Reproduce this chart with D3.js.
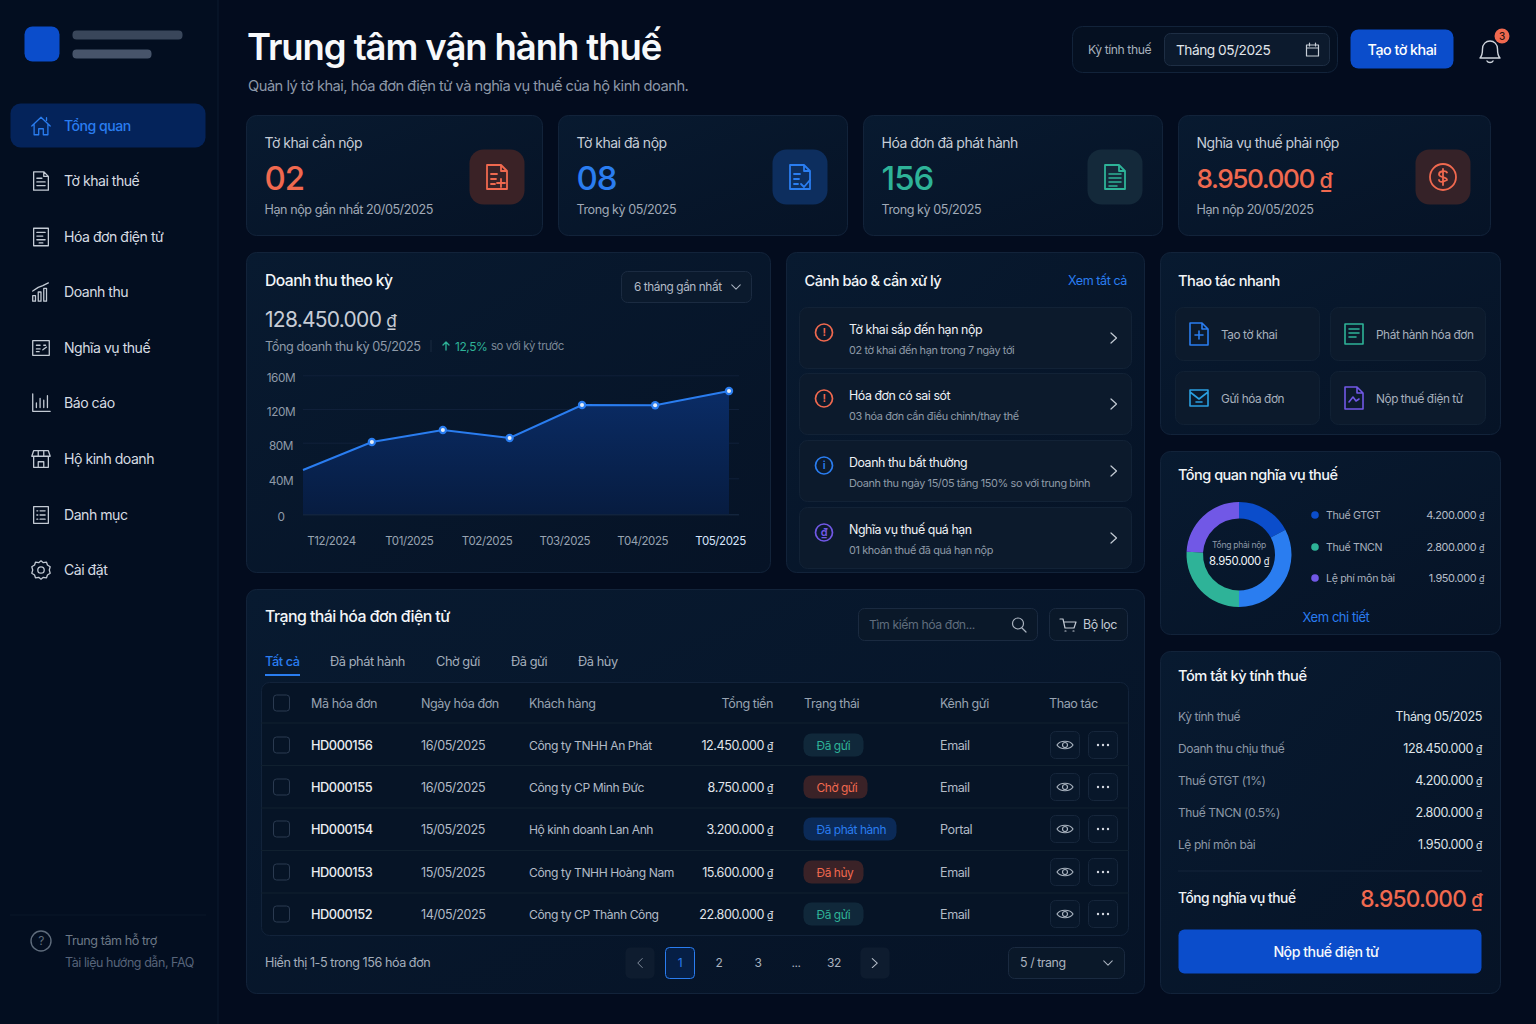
<!DOCTYPE html>
<html lang="vi"><head><meta charset="utf-8"><title>Trung tâm vận hành thuế</title>
<script src="https://cdn.jsdelivr.net/npm/d3@7/dist/d3.min.js"></script>
<style>html,body{margin:0;padding:0;background:#030c1e;overflow:hidden}svg{display:block}text{font-family:Inter,"Noto Sans",sans-serif;letter-spacing:-0.035em}</style>
</head><body><svg id="app" width="1536" height="1024" viewBox="0 0 1536 1024"></svg>
<script>
const navLabels=["Tổng quan","Tờ khai thuế","Hóa đơn điện tử","Doanh thu","Nghĩa vụ thuế","Báo cáo","Hộ kinh doanh","Danh mục","Cài đặt"];
const kpiLabels=["Tờ khai cần nộp","Tờ khai đã nộp","Hóa đơn đã phát hành","Nghĩa vụ thuế phải nộp"];
const kpiValues=["02","08","156","8.950.000 ₫"];
const kpiNotes=["Hạn nộp gần nhất 20/05/2025","Trong kỳ 05/2025","Trong kỳ 05/2025","Hạn nộp 20/05/2025"];
const monthLabels=["T12/2024","T01/2025","T02/2025","T03/2025","T04/2025","T05/2025"];
const revenuePeriods=[0,0.97,1.97,2.91,3.93,4.96,6];
const revenueValues=[49.3,80.8,95,85.6,124.7,124.5,141.4];
const revenueTicks=[0,40,80,120,160];
const alertTitles=["Tờ khai sắp đến hạn nộp","Hóa đơn có sai sót","Doanh thu bất thường","Nghĩa vụ thuế quá hạn"];
const alertNotes=["02 tờ khai đến hạn trong 7 ngày tới","03 hóa đơn cần điều chỉnh/thay thế","Doanh thu ngày 15/05 tăng 150% so với trung bình","01 khoản thuế đã quá hạn nộp"];
const quickLabels=["Tạo tờ khai","Phát hành hóa đơn","Gửi hóa đơn","Nộp thuế điện tử"];
const taxNames=["Thuế GTGT","Thuế TNCN","Lệ phí môn bài"];
const taxAmounts=["4.200.000 ₫","2.800.000 ₫","1.950.000 ₫"];
const ringShares=[62,118,93,87];
const summaryLabels=["Kỳ tính thuế","Doanh thu chịu thuế","Thuế GTGT (1%)","Thuế TNCN (0.5%)","Lệ phí môn bài"];
const summaryValues=["Tháng 05/2025","128.450.000 ₫","4.200.000 ₫","2.800.000 ₫","1.950.000 ₫"];
const tabLabels=["Tất cả","Đã phát hành","Chờ gửi","Đã gửi","Đã hủy"];
const tableHeaders=["Mã hóa đơn","Ngày hóa đơn","Khách hàng","Tổng tiền","Trạng thái","Kênh gửi","Thao tác"];
const invoiceIds=["HD000156","HD000155","HD000154","HD000153","HD000152"];
const invoiceDates=["16/05/2025","16/05/2025","15/05/2025","15/05/2025","14/05/2025"];
const invoiceCustomers=["Công ty TNHH An Phát","Công ty CP Minh Đức","Hộ kinh doanh Lan Anh","Công ty TNHH Hoàng Nam","Công ty CP Thành Công"];
const invoiceTotals=["12.450.000 ₫","8.750.000 ₫","3.200.000 ₫","15.600.000 ₫","22.800.000 ₫"];
const invoiceStatus=["Đã gửi","Chờ gửi","Đã phát hành","Đã hủy","Đã gửi"];
const invoiceChannels=["Email","Email","Portal","Email","Email"];
const pageLabels=["1","2","3","...","32"];

const C={blue:"#2a7df0",deep:"#0b4dcb",green:"#2eb398",red:"#f0694f",purple:"#7158e6",card:"#071629",line:"#12233a",white:"#f2f5f8",text:"#d3d9e1",mute:"#929dab",dim:"#5f6c7c"};
const svg=d3.select("#app");
const defs=svg.append("defs");
const bg=defs.append("linearGradient").attr("id","cardG").attr("x1",0).attr("y1",0).attr("x2",1).attr("y2",1);
bg.append("stop").attr("offset",0).attr("stop-color","#081a30");
bg.append("stop").attr("offset",1).attr("stop-color","#061326");
const af=defs.append("linearGradient").attr("id","areaG").attr("x1",0).attr("y1",0).attr("x2",0).attr("y2",1);
af.append("stop").attr("offset",0).attr("stop-color","#0a2c66");
af.append("stop").attr("offset",1).attr("stop-color","#071c40");

function T(g,x,y,s,o={}){
 const el=g.append("text").attr("x",x).attr("y",y).attr("dy","0.35em").attr("font-size",o.size||13).attr("font-weight",o.w||400).attr("fill",o.fill||C.text).attr("text-anchor",o.a||"start");
 if(o.ls!==undefined)el.style("letter-spacing",o.ls+"em");
 if(s.endsWith(" ₫")){el.append("tspan").text(s.slice(0,-1));el.append("tspan").attr("font-size",(o.size||13)*.82).text("₫");}
 else el.text(s);
 return el;}
function R(g,x0,y0,x1,y1,r,fill,stroke){return g.append("rect").attr("x",x0+.5).attr("y",y0+.5).attr("width",x1-x0-1).attr("height",y1-y0-1).attr("rx",r).attr("fill",fill||"none").attr("stroke",stroke||"none");}
function P(g,x,y,d,col,w=1.5,s=1){return g.append("path").attr("transform",`translate(${x},${y}) scale(${s})`).attr("d",d).attr("fill","none").attr("stroke",col).attr("stroke-width",w).attr("stroke-linecap","round").attr("stroke-linejoin","round");}
const Card=(g,a,b,c,d)=>R(g,a,b,c,d,10,"url(#cardG)",C.line);

const ICON={
home:"M-10 0L0-9.5 10 0M-7.5-2V9.5H-2.5V3H2.5V9.5H7.5V-2M6-9V-6",
doc:"M-8-10H3L8-5V10H-8ZM3-10V-5H8M-4.5-3H1M-4.5 1H4.5M-4.5 5H4.5",
inv:"M-8-9.5H8V9.5H-8ZM-4.5-5H4.5M-4.5-1H2M-4.5 3H4.5M-2 6.5H2",
bars:"M-9 10V4H-6V10ZM-3 10V0H0V10ZM3 10V-4H6V10ZM-9-1L-3-5 2-7 8-10",
tax:"M-9-8H9V8H-9ZM-5-3H-1M-5 1H-1M3-3H5M2 2L6-1M-5 4H-2",
rep:"M-9-10V9H10M-5 5V0M-1 5V-5M3 5V-3M7 5V-8",
shop:"M-8-9H8L10-3H-10ZM-8-3V9H8V-3M-3 9V3H3V9M-3-9V-3M3-9V-3",
list:"M-8-9H8V9H-8ZM-4.5-4.5H-3.5M-1-4.5H4.5M-4.5 0H-3.5M-1 0H4.5M-4.5 4.5H-3.5M-1 4.5H4.5",
gear:"M0-10L2.5-8 6-8.5 7-5.5 10-3.5 9 0 10 3.5 7 5.5 6 8.5 2.5 8 0 10-2.5 8-6 8.5-7 5.5-10 3.5-9 0-10-3.5-7-5.5-6-8.5-2.5-8ZM0-3.5A3.5 3.5 0 1 1 0 3.5 3.5 3.5 0 1 1 0-3.5",
chev:"M-3-5.5L2.5-.5-3 4.5",
down:"M-5-2.5L0 2.5 5-2.5",
left:"M3-6L-3 0 3 6"};

// sidebar
const side=svg.append("g");
side.append("rect").attr("width",218).attr("height",1024).attr("fill","#030e20");
side.append("line").attr("x1",218).attr("x2",218).attr("y1",0).attr("y2",1024).attr("stroke","#0d1b2e");
R(side,24,26,60,62,8,C.deep);
R(side,72,30,183,40,4,"#39465a");R(side,72,49,152,59,4,"#47546a");
R(side,10,103,206,148,10,"#04235a");
const navY=[126,181,237,292,348,403,459,515,570],navIcons=["home","doc","inv","bars","tax","rep","shop","list","gear"];
side.selectAll("g.nav").data(navLabels).join("g").attr("class","nav").each(function(d,i){const g=d3.select(this);
 P(g,41,navY[i],ICON[navIcons[i]],i?"#c3cad4":C.blue,1.4,.92);
 T(g,64,navY[i],d,{size:14.1,fill:i?"#d6dbe2":C.blue,w:i?400:500});});
side.append("line").attr("x1",10).attr("x2",206).attr("y1",915).attr("y2",915).attr("stroke","#0a1729");
side.append("circle").attr("cx",41).attr("cy",941).attr("r",10).attr("fill","none").attr("stroke",C.dim).attr("stroke-width",1.4);
T(side,41,941,"?",{size:12,fill:C.dim,a:"middle"});
T(side,65,940.5,"Trung tâm hỗ trợ",{size:12.6,fill:"#6d7987"});
T(side,65,962.5,"Tài liệu hướng dẫn, FAQ",{size:12.5,fill:"#57647a"});

// header
const head=svg.append("g");
T(head,247,47.5,"Trung tâm vận hành thuế",{size:36.5,w:600,fill:"#f7f9fb",ls:-0.03});
T(head,248,85.5,"Quản lý tờ khai, hóa đơn điện tử và nghĩa vụ thuế của hộ kinh doanh.",{size:14.7,fill:"#8d98a8"});
R(head,1072,26,1338,73,10,"#051021",C.line);
T(head,1088,50,"Kỳ tính thuế",{size:12.2,fill:"#a6b0bd"});
R(head,1164,33,1330,66,6,"#0c1a2d","#1e2e44");
T(head,1176,50,"Tháng 05/2025",{size:13.7,fill:"#e0e5ea"});
P(head,1312.5,50,"M-6-5H6V6H-6ZM-6-2H6M-3-7V-4M3-7V-4","#c6cdd6",1.2);
R(head,1350,29,1454,69,8,C.deep);
T(head,1402,49.5,"Tạo tờ khai",{size:14.3,w:500,fill:"#fff",a:"middle"});
P(head,1490,51,"M-10 7C-8 5-7.5 3-7.5-2-7.5-7-4-10 0-10 4-10 7.5-7 7.5-2 7.5 3 8 5 10 7ZM-3 10C-2 12 2 12 3 10","#cfd5dd",1.4);
head.append("circle").attr("cx",1502).attr("cy",36).attr("r",7.5).attr("fill",C.red);
T(head,1502,36,"3",{size:10,fill:"#2b1310",a:"middle",w:500});

// KPI
const kpiX=[[246,543],[558,848],[863,1163],[1178,1491]],kpiCol=[C.red,C.blue,C.green,C.red],kpiTile=["#3a2226","#0d2e5e","#14293a","#352228"],kpiIcon=[469,772,1087,1415],kpiSize=[33,33,33,26.2];
svg.append("g").selectAll("g").data(kpiLabels).join("g").each(function(d,i){const g=d3.select(this),x=kpiX[i][0];
 Card(g,x,115,kpiX[i][1],236);
 T(g,x+18.5,143.5,d,{size:14,fill:"#c6cdd7"});
 T(g,x+18.5,178.5,kpiValues[i],{size:kpiSize[i],w:500,fill:kpiCol[i],ls:i==3?-0.055:-0.03});
 T(g,x+18.5,210,kpiNotes[i],{size:12.6,fill:"#a0aab7"});
 R(g,kpiIcon[i],149,kpiIcon[i]+56,205,14,kpiTile[i]);
 const cx=kpiIcon[i]+28,cy=177;
 if(i<3)P(g,cx,cy,"M-10-12H4L10-6V12H-10ZM4-12V-6H10",kpiCol[i],1.8);
 if(i==0)P(g,cx,cy,"M-6-3H0M-6 2H-1M-6 7H-2M4 2V10M0 6H8",kpiCol[i],1.8);
 if(i==1)P(g,cx,cy,"M-6-3H0M-6 2H-1M-6 7H-2M1 7L4 10 10 3",kpiCol[i],1.8);
 if(i==2)P(g,cx,cy,"M-6-3H6M-6 1H6M-6 5H6M-6 9H2",kpiCol[i],1.5);
 if(i==3){P(g,cx,cy,"M0-13A13 13 0 1 1 0 13 13 13 0 1 1 0-13M4-4.5C3-6.5-4-6.5-4-2.5-4 1 4-1 4 3-4 7-4 3-4 3",kpiCol[i],1.8);P(g,cx,cy,"M0-8V8",kpiCol[i],1.8);}
});

// revenue card
const rev=svg.append("g");
Card(rev,246,252,771,573);
T(rev,265,281,"Doanh thu theo kỳ",{size:15.7,w:500,fill:"#f2f5f8"});
R(rev,621,271,752,303,6,"#0b1a2d","#1b2b41");
T(rev,634,287,"6 tháng gần nhất",{size:11.8,fill:"#b2bbc7"});
P(rev,736,287,ICON.down,"#aab4c1",1.2,.85);
T(rev,265,320,"128.450.000 ₫",{size:21,fill:"#c7cdd6"});
T(rev,265,346.5,"Tổng doanh thu kỳ 05/2025",{size:12.7,fill:"#8e99a8"});
rev.append("line").attr("x1",431).attr("x2",431).attr("y1",340).attr("y2",352).attr("stroke","#1a2a40");
P(rev,446,346,"M0 4V-4M-3-1L0-4 3-1",C.green,1.3);
T(rev,455,346.5,"12,5%",{size:12,fill:C.green});
T(rev,491,346.5,"so với kỳ trước",{size:11.4,fill:"#7b8796"});

const yS=d3.scaleLinear().domain(revenueTicks).range([514.3,478.3,442.7,409,375.3]);
const xS=d3.scaleLinear().domain([0,6]).range([303,729]);
const bandS=d3.scalePoint().domain(monthLabels).range([331,720]);
const yAxis=rev.append("g").attr("transform","translate(303,0)").call(d3.axisLeft(yS).tickValues(revenueTicks).tickSize(-436).tickFormat(d=>d?d+"M":"0"));
yAxis.select(".domain").remove();
yAxis.selectAll("line").attr("stroke",d=>d?"#10203a":"#1b2d47");
yAxis.selectAll("text").attr("x",-22).attr("dy","0.55em").attr("text-anchor","middle").attr("font-size",11.8).attr("fill","#8f9aa9");
const pts=revenueValues.map((v,i)=>[revenuePeriods[i],v]);
rev.append("path").datum(pts).attr("d",d3.area().x(d=>xS(d[0])).y0(yS(0)).y1(d=>yS(d[1]))).attr("fill","url(#areaG)");
rev.append("path").datum(pts).attr("d",d3.line().x(d=>xS(d[0])).y(d=>yS(d[1]))).attr("fill","none").attr("stroke",C.blue).attr("stroke-width",2);
const dots=rev.selectAll("g.pt").data(pts.slice(1)).join("g").attr("class","pt").attr("transform",d=>`translate(${xS(d[0])},${yS(d[1])})`);
dots.append("circle").attr("r",4.2).attr("fill",C.blue);
dots.append("circle").attr("r",2).attr("fill","#e8eef7");
const xAxis=rev.append("g").attr("transform","translate(0,514)").call(d3.axisBottom(bandS).tickSize(0).tickPadding(23));
xAxis.select(".domain").remove();
xAxis.selectAll("text").attr("font-size",11.5).attr("fill",d=>d=="T05/2025"?"#d6e4fb":"#98a3b1");

// alerts
const al=svg.append("g");
Card(al,786,252,1145,573);
T(al,804.5,281,"Cảnh báo & cần xử lý",{size:14.6,w:500,fill:"#f2f5f8"});
T(al,1127,281,"Xem tất cả",{size:12.6,fill:C.blue,a:"end"});
const alY=[[307,369],[373,435],[440,502],[507,569]],alC=[C.red,C.red,C.blue,C.purple];
al.selectAll("g.a").data(alertTitles).join("g").attr("class","a").each(function(d,i){const g=d3.select(this),[a,b]=alY[i],m=(a+b)/2;
 R(g,799,a,1132,b,8,"#0c1a2c","#122236");
 g.append("circle").attr("cx",824).attr("cy",m-5.5).attr("r",8.5).attr("fill","#0c1a2c").attr("stroke",alC[i]).attr("stroke-width",1.7);
 T(g,824,m-5.5,i==3?"₫":i==2?"i":"!",{size:11,w:600,fill:alC[i],a:"middle"});
 T(g,849,a+23,d,{size:12.4,fill:"#eef1f5"});
 T(g,849,a+43.5,alertNotes[i],{size:10.9,fill:"#8f9aa8"});
 P(g,1114,m+.5,ICON.chev,"#c4cbd4",1.2);
});

// quick actions
const qa=svg.append("g");
Card(qa,1160,252,1501,435);
T(qa,1178,281,"Thao tác nhanh",{size:14.7,w:500,fill:"#f2f5f8"});
const qaB=[[1175,307,1320,361],[1330,307,1486,361],[1175,371,1320,425],[1330,371,1486,425]],qaC=[C.blue,C.green,"#2a9fe0",C.purple];
qa.selectAll("g.q").data(quickLabels).join("g").attr("class","q").each(function(d,i){const g=d3.select(this),b=qaB[i],cy=(b[1]+b[3])/2;
 R(g,b[0],b[1],b[2],b[3],8,"#0c1a2c","#112134");
 const cx=b[0]+24;
 if(i==2)P(g,cx,cy,"M-9-8H9V8H-9ZM-9-6L0 1 9-6M-3 4H3",qaC[i],1.6);
 else if(i==1)P(g,cx,cy,"M-9-10H9V10H-9ZM-5-5H5M-5-1H5M-5 3H2",qaC[i],1.6);
 else if(i==0)P(g,cx,cy,"M-9-11H3L9-5V11H-9ZM3-11V-5H9M0-3V5M-4 1H4",qaC[i],1.6);
 else P(g,cx,cy,"M-9-11H3L9-5V11H-9ZM3-11V-5H9M-5 4L-1-1 2 3 5 1",qaC[i],1.6);
 T(g,b[0]+46,cy+.5,d,{size:11.8,fill:"#a7b0bd"});
});

// donut
const dn=svg.append("g");
Card(dn,1160,451,1501,635);
T(dn,1178,475,"Tổng quan nghĩa vụ thuế",{size:14.5,w:500,fill:"#f2f5f8"});
const ringC=[C.deep,C.blue,C.green,C.purple];
const pie=d3.pie().sort(null).value(d=>d);
const arc=d3.arc().innerRadius(36).outerRadius(52.5);
dn.append("g").attr("transform","translate(1239,554.5)").selectAll("path").data(pie(ringShares)).join("path").attr("d",arc).attr("fill",(d,i)=>ringC[i]);
T(dn,1239,544.5,"Tổng phải nộp",{size:8.6,fill:"#8e99a8",a:"middle"});
T(dn,1239,561,"8.950.000 ₫",{size:11.4,fill:"#f2f5f8",a:"middle"});
const legendY=[515,547,578],legendC=[C.deep,C.green,C.purple];
dn.selectAll("g.l").data(taxNames).join("g").attr("class","l").each(function(d,i){const g=d3.select(this);
 g.append("circle").attr("cx",1315).attr("cy",legendY[i]).attr("r",3.8).attr("fill",legendC[i]);
 T(g,1326,legendY[i],d,{size:10.7,fill:"#a7b0bd"});
 T(g,1484,legendY[i],taxAmounts[i],{size:10.9,fill:"#b5bdc8",a:"end"});
});
T(dn,1336,617,"Xem chi tiết",{size:13,fill:C.blue,a:"middle"});

// summary
const su=svg.append("g");
Card(su,1160,651,1501,994);
T(su,1178,676,"Tóm tắt kỳ tính thuế",{size:14.7,w:500,fill:"#f2f5f8"});
const sumY=[717,749,781,813,845];
su.selectAll("g.s").data(summaryLabels).join("g").attr("class","s").each(function(d,i){const g=d3.select(this);
 T(g,1178,sumY[i],d,{size:12,fill:"#8d98a7"});
 T(g,1482,sumY[i],summaryValues[i],{size:12.6,fill:"#dde2e8",a:"end"});
});
su.append("line").attr("x1",1178).attr("x2",1482).attr("y1",871).attr("y2",871).attr("stroke","#15253b");
T(su,1178,898,"Tổng nghĩa vụ thuế",{size:13.8,w:500,fill:"#eef1f5"});
T(su,1482,899,"8.950.000 ₫",{size:22.7,w:500,fill:C.red,a:"end"});
R(su,1178,929,1482,974,6,C.deep);
T(su,1326,952,"Nộp thuế điện tử",{size:14.2,w:500,fill:"#f5f8fc",a:"middle"});

// table card
const tb=svg.append("g");
Card(tb,246,589,1145,994);
T(tb,265,616.5,"Trạng thái hóa đơn điện tử",{size:15.9,w:500,fill:"#f2f5f8"});
R(tb,858,608,1038,641,6,"#0a1829","#1a2a40");
T(tb,869,625,"Tìm kiếm hóa đơn...",{size:12.3,fill:"#5f6c7c"});
P(tb,1019,624,"M-1-6A5.5 5.5 0 1 1-1 5 5.5 5.5 0 1 1-1-6M3 4L7 8","#aab3bf",1.2);
R(tb,1049,608,1128,641,6,"#0a1829","#1a2a40");
P(tb,1068,625,"M-8-6H-5L-3 3H6L8-3H-4M-3 6H-2M5 6H6","#c3cad4",1.2);
T(tb,1083,625,"Bộ lọc",{size:12.4,fill:"#c3cad4"});
const tabX=[265,330,436,511,578];
tb.selectAll("g.tab").data(tabLabels).join("g").attr("class","tab").each(function(d,i){T(d3.select(this),tabX[i],661.5,d,{size:12.8,fill:i?"#a4aebb":C.blue,w:i?400:500});});
tb.append("line").attr("x1",265).attr("x2",300).attr("y1",675).attr("y2",675).attr("stroke",C.blue).attr("stroke-width",2);
R(tb,261,682,1129,936,8,"#061426","#12233a");
const headX=[311,421,529,773,804,940,1049];
tb.selectAll("g.h").data(tableHeaders).join("g").attr("class","h").each(function(d,i){T(d3.select(this),headX[i],703.5,d,{size:12.6,fill:"#98a3b1",a:i==3?"end":"start"});});
const rowY=[745,787,829,872,914],lineY=[723,765.5,808,850.5,893];
tb.selectAll("line.r").data(lineY).join("line").attr("class","r").attr("x1",261).attr("x2",1129).attr("y1",d=>d).attr("y2",d=>d).attr("stroke","#10202f");
R(tb,273,694.5,290,711.5,3,"none","#2a3a50");
const pillW={"Đã gửi":61,"Chờ gửi":65,"Đã phát hành":94,"Đã hủy":61};
const pillF={"Đã gửi":"#10283a","Chờ gửi":"#3a2227","Đã phát hành":"#0b2a57","Đã hủy":"#3a2227"};
const pillT={"Đã gửi":C.green,"Chờ gửi":C.red,"Đã phát hành":C.blue,"Đã hủy":C.red};
tb.selectAll("g.row").data(invoiceIds).join("g").attr("class","row").each(function(d,i){const g=d3.select(this),y=rowY[i],s=invoiceStatus[i];
 R(g,273,y-8.5,290,y+8.5,3,"none","#2a3a50");
 T(g,311,y+.6,d,{size:12.8,fill:"#eaedf1",w:500});
 T(g,421,y+.6,invoiceDates[i],{size:12.6,fill:"#b2bbc6"});
 T(g,529,y+.6,invoiceCustomers[i],{size:12.1,fill:"#b2bbc6"});
 T(g,773,y+.6,invoiceTotals[i],{size:12.6,fill:"#e0e4ea",a:"end"});
 R(g,803,y-12,803+pillW[s],y+12,8,pillF[s]);
 T(g,816.5,y+.4,s,{size:11.9,fill:pillT[s]});
 T(g,940,y+.6,invoiceChannels[i],{size:12.6,fill:"#b2bbc6"});
 R(g,1050,y-14,1080,y+14,5,"#08172a","#16263b");
 R(g,1088,y-14,1118,y+14,5,"#08172a","#16263b");
 P(g,1065,y,"M-8 0C-5-5 5-5 8 0 5 5-5 5-8 0ZM0-2.5A2.5 2.5 0 1 1 0 2.5 2.5 2.5 0 1 1 0-2.5","#a8b2be",1.2);
 g.selectAll("circle").data([-5,0,5]).join("circle").attr("cx",v=>1103+v).attr("cy",y).attr("r",1.2).attr("fill","#d3d9e1");
});
T(tb,265,962.5,"Hiển thị 1-5 trong 156 hóa đơn",{size:12.6,fill:"#a4aebb"});
R(tb,625,947,655,979,5,"#0e1c2f");P(tb,640,963,ICON.left,"#8e99a8",1.2,.75);
R(tb,860,947,890,979,5,"#0e1c2f");P(tb,875,963.5,ICON.chev,"#b5bdc8",1.2,.9);
R(tb,665,947,695,979,4,"#061f45",C.blue);
const pageX=[680,719,758,796,834];
tb.selectAll("g.pg").data(pageLabels).join("g").attr("class","pg").each(function(d,i){T(d3.select(this),pageX[i],962.5,d,{size:12,fill:i?"#aab3bf":C.blue,a:"middle"});});
R(tb,1008,947,1125,979,6,"#0a1829","#1a2a40");
T(tb,1020,963,"5 / trang",{size:12.4,fill:"#aab3bf"});
P(tb,1108,963,ICON.down,"#aab3bf",1.2,.85);
</script></body></html>
